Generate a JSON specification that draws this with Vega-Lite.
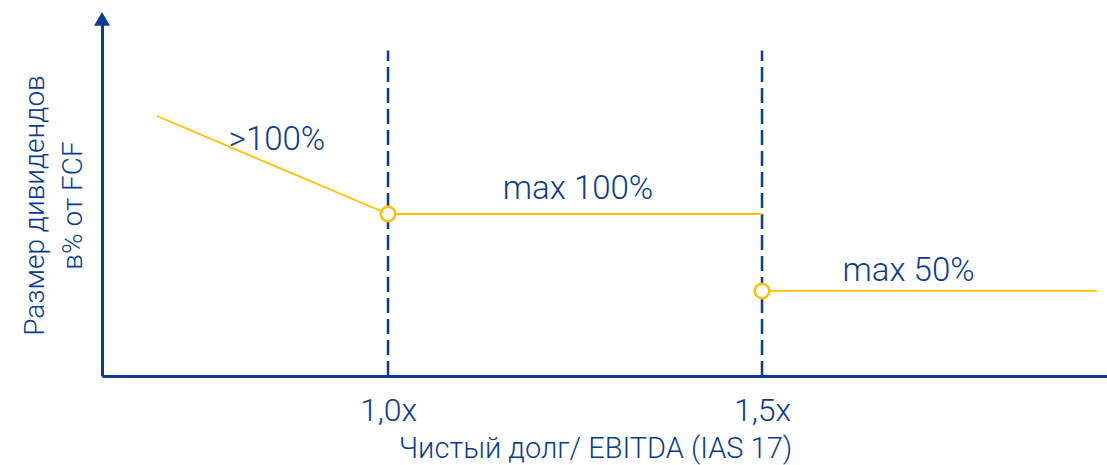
{
  "$schema": "https://vega.github.io/schema/vega-lite/v6.json",
  "width": 1005,
  "height": 356,
  "padding": {"left": 102, "top": 20, "right": 0, "bottom": 89},
  "autosize": {"type": "none"},
  "background": "white",
  "config": {
    "view": {"stroke": null},
    "font": "Roboto",
    "axis": {"grid": false}
  },
  "datasets": {
    "lines": [
      {"seg": "a", "x": 0.691, "y": 160.5},
      {"seg": "a", "x": 1.0, "y": 100},
      {"seg": "b", "x": 1.0, "y": 100},
      {"seg": "b", "x": 1.5, "y": 100},
      {"seg": "c", "x": 1.5, "y": 52.5},
      {"seg": "c", "x": 1.948, "y": 52.5}
    ],
    "points": [
      {"x": 1.0, "y": 100},
      {"x": 1.5, "y": 52.5}
    ],
    "rules": [
      {"x": 1.0, "y": 0, "y2": 201},
      {"x": 1.5, "y": 0, "y2": 201}
    ],
    "labels": [
      {"x": 0.8516, "y": 145.7, "text": ">100%"},
      {"x": 1.254, "y": 115.4, "text": "max 100%"},
      {"x": 1.6959, "y": 64.8, "text": "max 50%"}
    ],
    "arrow": [
      {"x": 0.6176, "y": 220.4}
    ]
  },
  "layer": [
    {
      "data": {"name": "rules"},
      "mark": {"type": "rule", "color": "#0a3c96", "strokeWidth": 2.5, "strokeDash": [15, 6]},
      "encoding": {
        "x": {
          "field": "x", "type": "quantitative",
          "scale": {"domain": [0.6176, 1.9612], "nice": false, "zero": false},
          "axis": {
            "values": [1.0, 1.5],
            "labelExpr": "replace(format(datum.value, '.1f'), '.', ',') + 'x'",
            "domainColor": "#0a3c96",
            "domainWidth": 3,
            "ticks": false,
            "labelFontSize": 32,
            "labelFontWeight": 300,
            "labelColor": "#0a3c96",
            "labelPadding": 19,
            "labelFont": "Roboto",
            "title": "Чистый долг/ EBITDA (IAS 17)",
            "titleFont": "Roboto",
            "titleFontSize": 29,
            "titleFontWeight": 300,
            "titleColor": "#0a3c96",
            "titleX": 493,
            "titleY": 81,
            "titleBaseline": "alphabetic",
            "titleAlign": "center"
          }
        },
        "y": {
          "field": "y", "type": "quantitative",
          "scale": {"domain": [0, 219.75], "nice": false, "zero": false},
          "axis": {
            "domainColor": "#0a3c96",
            "domainWidth": 3,
            "ticks": false,
            "labels": false,
            "title": ["Размер дивидендов", "в% от FCF"],
            "titleFont": "Roboto",
            "titleFontSize": 28,
            "titleFontWeight": 300,
            "titleColor": "#0a3c96",
            "titleAngle": -90,
            "titleLineHeight": 38,
            "titleX": -67,
            "titleY": 185,
            "titleAlign": "center",
            "titleBaseline": "middle"
          }
        },
        "y2": {"field": "y2"}
      }
    },
    {
      "data": {"name": "lines"},
      "mark": {"type": "line", "color": "#ffc000", "strokeWidth": 1.8},
      "encoding": {
        "x": {"field": "x", "type": "quantitative"},
        "y": {"field": "y", "type": "quantitative"},
        "detail": {"field": "seg"}
      }
    },
    {
      "data": {"name": "points"},
      "mark": {"type": "point", "shape": "circle", "filled": false, "fill": "white", "fillOpacity": 1, "stroke": "#ffc000", "strokeWidth": 2.5, "size": 210, "opacity": 1},
      "encoding": {
        "x": {"field": "x", "type": "quantitative"},
        "y": {"field": "y", "type": "quantitative"}
      }
    },
    {
      "data": {"name": "labels"},
      "mark": {"type": "text", "font": "Roboto", "fontSize": 33, "fontWeight": 300, "color": "#0a3c96", "align": "center", "baseline": "middle"},
      "encoding": {
        "x": {"field": "x", "type": "quantitative"},
        "y": {"field": "y", "type": "quantitative"},
        "text": {"field": "text"}
      }
    },
    {
      "data": {"name": "arrow"},
      "mark": {"type": "point", "shape": "triangle-up", "filled": true, "color": "#0a3c96", "size": 256, "opacity": 1},
      "encoding": {
        "x": {"field": "x", "type": "quantitative"},
        "y": {"field": "y", "type": "quantitative"}
      }
    }
  ]
}
